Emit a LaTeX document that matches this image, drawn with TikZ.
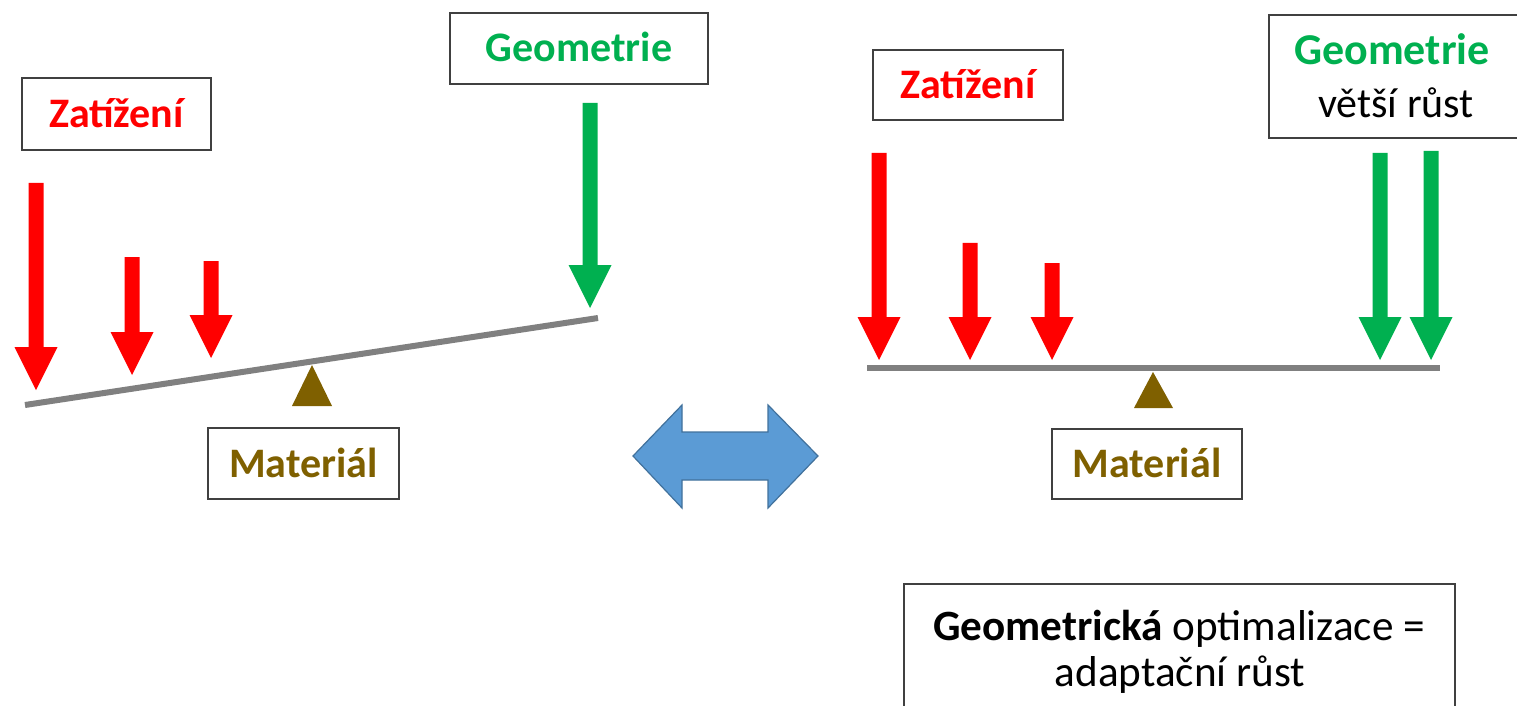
\documentclass[tikz,border=0pt]{standalone}
\usepackage{fontspec}
\setmainfont{Carlito}
\definecolor{loadred}{HTML}{FF0000}
\definecolor{geogreen}{HTML}{00B050}
\definecolor{matbrown}{HTML}{7F6000}
\definecolor{beamgray}{HTML}{808080}
\definecolor{swapfill}{HTML}{5B9BD5}
\definecolor{swapline}{HTML}{41719C}
\tikzset{
  labelbox/.style={draw=black!75, line width=1pt, fill=white, inner sep=0pt,
    text height=13.5pt, text depth=0pt,
    font=\fontsize{21}{26}\selectfont\bfseries},
  plaintext/.style={inner sep=0pt, anchor=base, font=\fontsize{21}{26}\selectfont},
  beam/.style={draw=beamgray, line width=3pt},
  pivot/.style={fill=matbrown},
}
% block arrow pointing down: colour, x, top y, tip y
\newcommand\forcearrow[4]{%
  \fill[#1] (#2-7.5,#3) -- (#2+7.5,#3) -- (#2+7.5,#4-43) -- (#2+21.5,#4-43)
    -- (#2,#4) -- (#2-21.5,#4-43) -- (#2-7.5,#4-43) -- cycle;}
\begin{document}
\begin{tikzpicture}[x=0.5pt,y=-0.5pt]
\useasboundingbox (0,0) rectangle (1517,706);

% ---------- left: unbalanced lever ----------
\node[labelbox, text=loadred, minimum width=94.5pt, minimum height=36pt]
  (loadL) at (116.5,114) {Zatížení};
\node[labelbox, text=geogreen, minimum width=129pt, minimum height=35.5pt]
  (geoL) at (579,48.5) {Geometrie};
\node[labelbox, text=matbrown, minimum width=95.5pt, minimum height=35.5pt]
  (matL) at (303.5,463.5) {Materiál};

\coordinate (beamLa) at (25,405);
\coordinate (beamLb) at (598,318);
\draw[beam] (beamLa) -- (beamLb);
\fill[pivot] (312,365) -- (332,406) -- (292,406) -- cycle;

\forcearrow{loadred}{36}{183}{390}
\forcearrow{loadred}{132}{257}{375}
\forcearrow{loadred}{211}{261}{358}
\forcearrow{geogreen}{590}{103}{308}

% ---------- middle: two-way arrow ----------
\filldraw[fill=swapfill, draw=swapline, line width=0.6pt]
  (633,456) -- (682,405) -- (682,432) -- (768,432) -- (768,405) -- (818,456)
  -- (768,508) -- (768,480) -- (682,480) -- (682,508) -- cycle;

% ---------- right: balanced lever ----------
\node[labelbox, text=loadred, minimum width=95pt, minimum height=35pt]
  (loadR) at (968,85) {Zatížení};
\draw[draw=black!75, line width=1pt, fill=white] (1269,15) rectangle (1530,138);
\node[plaintext, text=geogreen, font=\fontsize{22}{26}\selectfont\bfseries]
  (geoR) at (1392,65) {Geometrie};
\node[plaintext] (growR) at (1396,118) {větší růst};
\node[labelbox, text=matbrown, minimum width=95pt, minimum height=35pt]
  (matR) at (1147,464) {Materiál};

\coordinate (beamRa) at (867,368);
\coordinate (beamRb) at (1440,368);
\draw[beam] (beamRa) -- (beamRb);
\fill[pivot] (1153,372) -- (1173,408) -- (1134,408) -- cycle;

\forcearrow{loadred}{879}{153}{360}
\forcearrow{loadred}{970}{243}{360}
\forcearrow{loadred}{1052}{263}{360}
\forcearrow{geogreen}{1380}{153}{360}
\forcearrow{geogreen}{1431}{151}{360}

% ---------- summary ----------
\draw[draw=black!75, line width=1pt, fill=white] (904,584) rectangle (1455,730);
\node[plaintext, font=\fontsize{21.6}{26}\selectfont]
  (sum1) at (1179,640) {\textbf{Geometrická} optimalizace =};
\node[plaintext, font=\fontsize{21.6}{26}\selectfont]
  (sum2) at (1180,686) {adaptační růst};
\end{tikzpicture}
\end{document}
